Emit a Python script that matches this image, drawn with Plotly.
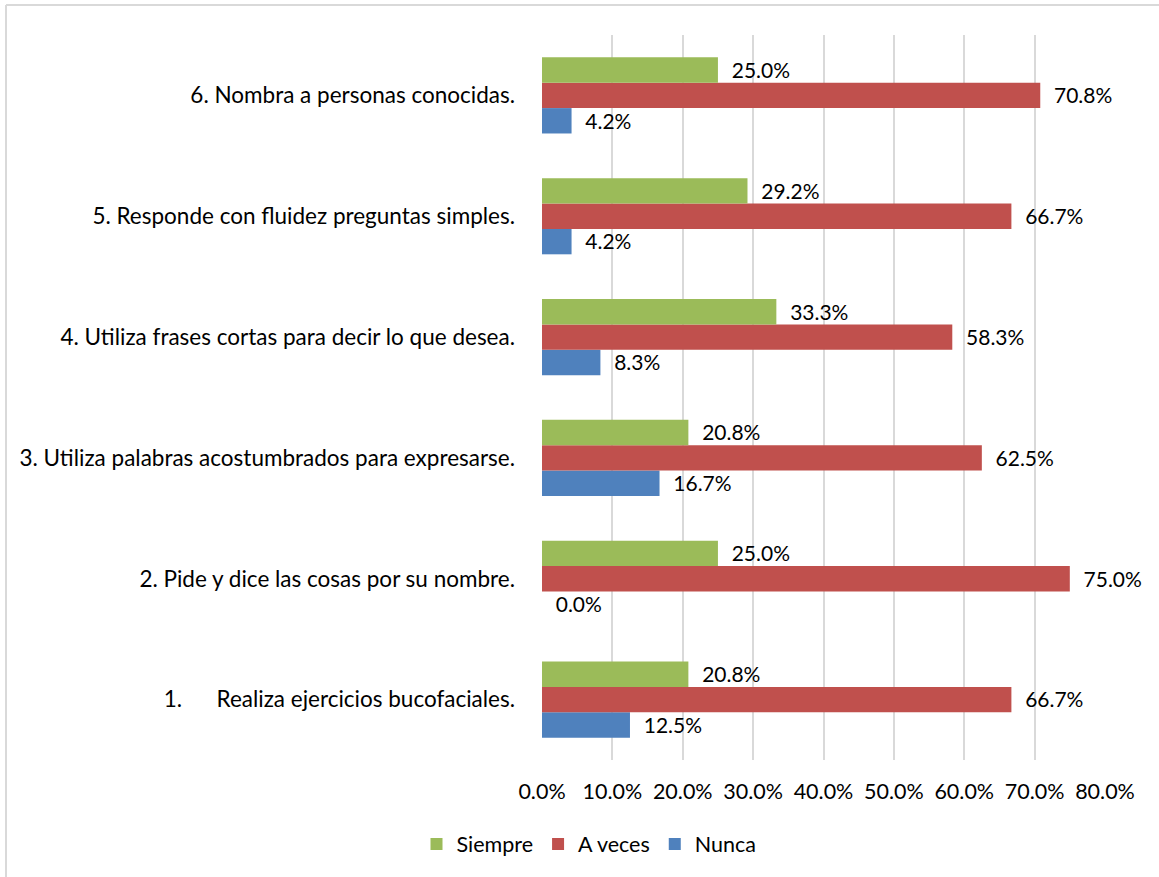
import plotly.graph_objects as go

categories = [
    "1.\u00a0\u00a0\u00a0\u00a0\u00a0\u00a0Realiza ejercicios bucofaciales.",
    "2. Pide y dice las cosas por su nombre.",
    "3. Utiliza palabras acostumbrados para expresarse.",
    "4. Utiliza frases cortas para decir lo que desea.",
    "5. Responde con fluidez preguntas simples.",
    "6. Nombra a personas conocidas.",
]
siempre = [0.208, 0.250, 0.208, 0.333, 0.292, 0.250]
a_veces = [0.667, 0.750, 0.625, 0.583, 0.667, 0.708]
nunca = [0.125, 0.000, 0.167, 0.083, 0.042, 0.042]
tick_vals = [0, 0.1, 0.2, 0.3, 0.4, 0.5, 0.6, 0.7, 0.8]

FONT = "Lato, 'Open Sans', sans-serif"
FS = 21.5
FS_CAT = 22.5
pad = "\u00a0\u00a0"

fig = go.Figure()
for name, vals, color in [
    ("Nunca", nunca, "#4F81BD"),
    ("A veces", a_veces, "#C0504D"),
    ("Siempre", siempre, "#9BBB59"),
]:
    fig.add_trace(go.Bar(
        y=categories, x=vals, name=name, orientation="h",
        marker=dict(color=color, line=dict(width=0)),
        text=[pad + f"{v*100:.1f}%" for v in vals],
        textposition="outside", cliponaxis=False,
        textfont=dict(family=FONT, size=FS, color="#000000"),
    ))

W, H = 1159, 877
ml, mr, mt, mb = 542, 54, 35, 117
pw, ph = W - ml - mr, H - mt - mb

def px2x(px):
    return (px - ml) / pw

def px2y(py):
    return (H - mb - py) / ph

fig.update_layout(
    width=W, height=H,
    margin=dict(l=ml, r=mr, t=mt, b=mb, pad=0),
    paper_bgcolor="white", plot_bgcolor="white",
    barmode="group", bargap=0.37, bargroupgap=0,
    font=dict(family=FONT, size=FS, color="#000000"),
    showlegend=True,
    legend=dict(orientation="h", traceorder="reversed",
                x=px2x(589), xanchor="center", y=px2y(844), yanchor="middle",
                font=dict(family=FONT, size=FS, color="#000000"),
                itemwidth=30, tracegroupgap=0),
    xaxis=dict(range=[0, 0.8], tickvals=tick_vals, tickformat=".1%",
               showgrid=True, gridcolor="#D9D9D9", gridwidth=2,
               zeroline=False, showline=False, ticks="",
               ticklabelstandoff=16,
               tickfont=dict(family=FONT, size=FS, color="#000000")),
    yaxis=dict(type="category", categoryorder="array", categoryarray=categories,
               showgrid=False, zeroline=False, showline=False, ticks="",
               ticklabelstandoff=26,
               tickfont=dict(family=FONT, size=FS_CAT, color="#000000")),
    shapes=[
        dict(type="line", xref="paper", yref="paper",
             x0=px2x(6), x1=px2x(1200), y0=px2y(5), y1=px2y(5),
             line=dict(color="#D9D9D9", width=2)),
        dict(type="line", xref="paper", yref="paper",
             x0=px2x(6), x1=px2x(6), y0=px2y(5), y1=px2y(900),
             line=dict(color="#D9D9D9", width=2)),
    ],
)

fig.write_html("out.html",
               config={"displayModeBar": False},
               post_script="document.body.style.margin='0';document.body.style.overflow='hidden';")
